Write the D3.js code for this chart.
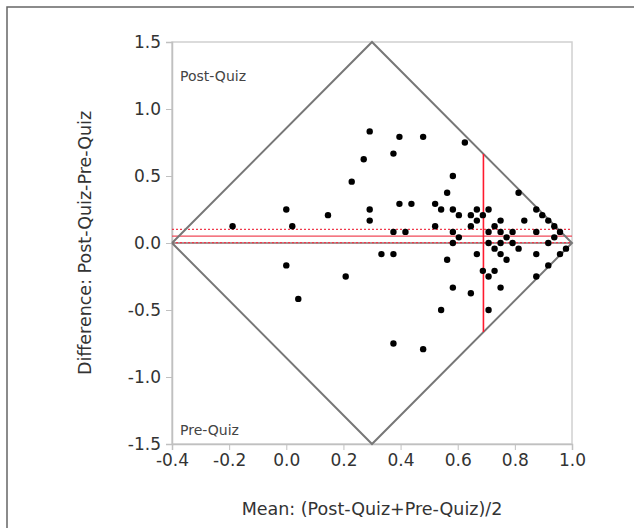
<!DOCTYPE html>
<html>
<head>
<meta charset="utf-8">
<script src="https://cdn.jsdelivr.net/npm/d3@7"></script>
<style>
  body { margin: 0; background: #fff; }
  text { font-family: "DejaVu Sans", Verdana, sans-serif; }
</style>
</head>
<body>
<div id="chart"></div>
<script>
// mean of pre/post score (x) and post-pre difference (y) per student
var meanScore = [-0.188, 0.000, 0.021, 0.146, 0.292, 0.292, 0.333, 0.000, 0.208, 0.042,
  0.229, 0.271, 0.292, 0.396, 0.479, 0.375, 0.563, 0.396, 0.438, 0.521,
  0.542, 0.521, 0.375, 0.417, 0.375, 0.563, 0.542, 0.375, 0.479, 0.625,
  0.583, 0.583, 0.604, 0.646, 0.667, 0.708, 0.667, 0.688, 0.646, 0.750,
  0.813, 0.833, 0.729, 0.583, 0.604, 0.708, 0.750, 0.792, 0.771, 0.583,
  0.708, 0.750, 0.792, 0.875, 0.917, 0.938, 0.875, 0.896, 0.917, 0.938,
  0.958, 0.667, 0.729, 0.750, 0.771, 0.813, 0.875, 0.958, 0.979, 0.917,
  0.875, 0.688, 0.708, 0.729, 0.583, 0.646, 0.750, 0.708];
var diffScore = [0.125, 0.250, 0.125, 0.208, 0.250, 0.167, -0.083, -0.167, -0.250, -0.417,
  0.458, 0.625, 0.833, 0.792, 0.792, 0.667, 0.375, 0.292, 0.292, 0.292,
  0.250, 0.125, 0.083, 0.083, -0.083, -0.125, -0.500, -0.750, -0.792, 0.750,
  0.500, 0.250, 0.208, 0.208, 0.250, 0.250, 0.167, 0.208, 0.125, 0.167,
  0.375, 0.167, 0.125, 0.083, 0.042, 0.083, 0.083, 0.083, 0.042, 0.000,
  0.000, 0.000, 0.000, 0.083, 0.000, 0.042, 0.250, 0.208, 0.167, 0.125,
  0.083, -0.083, -0.042, -0.083, -0.125, -0.042, -0.083, -0.083, -0.042, -0.167,
  -0.250, -0.208, -0.250, -0.208, -0.333, -0.375, -0.333, -0.500];

var xTicks = [-0.4, -0.2, 0.0, 0.2, 0.4, 0.6, 0.8, 1.0];
var yTicks = [-1.5, -1.0, -0.5, 0.0, 0.5, 1.0, 1.5];

// summary lines
var meanDiff = 0.052, upperCI = 0.102, lowerCI = 0.003;
var meanOfMeans = 0.69;

var width = 634, height = 528;
var margin = {top: 42, right: 62, bottom: 84, left: 172};

var svg = d3.select('#chart')
  .append('svg')
  .attr('width', width)
  .attr('height', height);

// outer frame
svg.append('rect')
  .attr('x', 7).attr('y', 7)
  .attr('width', 700).attr('height', 600)
  .attr('fill', 'none')
  .attr('stroke', '#666')
  .attr('stroke-width', 1.5);

var x = d3.scaleLinear()
  .domain([-0.4, 1.0])
  .range([margin.left, width - margin.right]);

var y = d3.scaleLinear()
  .domain([-1.5, 1.5])
  .range([height - margin.bottom, margin.top]);

// plot frame
svg.append('rect')
  .attr('x', x(-0.4)).attr('y', y(1.5))
  .attr('width', x(1.0) - x(-0.4))
  .attr('height', y(-1.5) - y(1.5))
  .attr('fill', 'none')
  .attr('stroke', '#d0d0d0')
  .attr('stroke-width', 1.5);

// axes
var xAxis = svg.append('g')
  .attr('transform', 'translate(0,' + y(-1.5) + ')')
  .call(d3.axisBottom(x).tickValues(xTicks).tickFormat(d3.format('.1f')).tickSize(6).tickPadding(4));

var yAxis = svg.append('g')
  .attr('transform', 'translate(' + x(-0.4) + ',0)')
  .call(d3.axisLeft(y).tickValues(yTicks).tickFormat(d3.format('.1f')).tickSize(6).tickPadding(5));

[xAxis, yAxis].forEach(function(a) {
  a.select('.domain').attr('stroke', '#c0c0c0').attr('stroke-width', 1.5);
  a.selectAll('.tick line').attr('stroke', '#c0c0c0');
  a.selectAll('.tick text')
    .attr('fill', '#333')
    .style('font-size', '17px')
    .style('font-family', '"DejaVu Sans", Verdana, sans-serif')
    .text(function(d) { return d3.format('.1f')(d).replace('−', '-'); });
});

// zero reference line
svg.append('line')
  .attr('x1', x(-0.4)).attr('x2', x(1.0))
  .attr('y1', y(0)).attr('y2', y(0))
  .attr('stroke', '#8a7070')
  .attr('stroke-width', 1.5);

// mean difference and confidence lines
svg.append('line')
  .attr('x1', x(-0.4)).attr('x2', x(1.0))
  .attr('y1', y(meanDiff)).attr('y2', y(meanDiff))
  .attr('stroke', '#f04858')
  .attr('stroke-width', 1.2);

[upperCI, lowerCI].forEach(function(v) {
  svg.append('line')
    .attr('x1', x(-0.4)).attr('x2', x(1.0))
    .attr('y1', y(v)).attr('y2', y(v))
    .attr('stroke', '#f03a4c')
    .attr('stroke-width', 1.3)
    .attr('stroke-dasharray', '2,2');
});

// diamond of possible values
var diamond = [[-0.4, 0], [0.3, 1.5], [1.0, 0], [0.3, -1.5], [-0.4, 0]];
svg.append('path')
  .attr('d', d3.line().x(function(d) { return x(d[0]); }).y(function(d) { return y(d[1]); })(diamond))
  .attr('fill', 'none')
  .attr('stroke', '#777')
  .attr('stroke-width', 2);

// vertical line at mean of means, clipped to the diamond
var halfH = 1.5 * (1 - Math.abs(meanOfMeans - 0.3) / 0.7);
svg.append('line')
  .attr('x1', x(meanOfMeans)).attr('x2', x(meanOfMeans))
  .attr('y1', y(halfH)).attr('y2', y(-halfH))
  .attr('stroke', '#ff1a2e')
  .attr('stroke-width', 1.6);

// points
svg.selectAll('circle.pt')
  .data(meanScore)
  .enter()
  .append('circle')
  .attr('class', 'pt')
  .attr('cx', function(d) { return x(d); })
  .attr('cy', function(d, i) { return y(diffScore[i]); })
  .attr('r', 3.2)
  .attr('fill', '#000');

// corner labels
svg.append('text')
  .attr('x', x(-0.4) + 8).attr('y', y(1.5) + 39)
  .style('font-size', '14px').attr('fill', '#444')
  .text('Post-Quiz');
svg.append('text')
  .attr('x', x(-0.4) + 8).attr('y', y(-1.5) - 9)
  .style('font-size', '14px').attr('fill', '#444')
  .text('Pre-Quiz');

// axis titles
svg.append('text')
  .attr('x', x(0.3)).attr('y', 515)
  .attr('text-anchor', 'middle')
  .style('font-size', '17.5px').attr('fill', '#333')
  .text('Mean: (Post-Quiz+Pre-Quiz)/2');

svg.append('text')
  .attr('transform', 'translate(91,' + y(0) + ') rotate(-90)')
  .attr('text-anchor', 'middle')
  .style('font-size', '17.5px').attr('fill', '#333')
  .text('Difference: Post-Quiz-Pre-Quiz');
</script>
</body>
</html>
